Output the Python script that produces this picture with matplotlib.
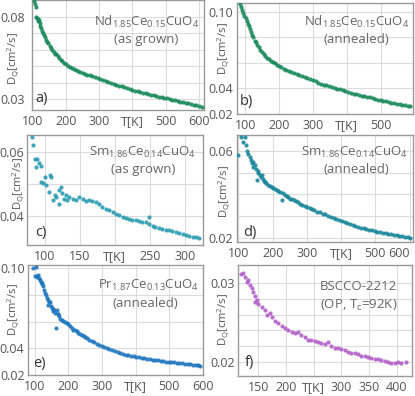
import matplotlib
matplotlib.use('Agg')
import matplotlib.pyplot as plt

plt.rcParams['font.family'] = ['Open Sans', 'DejaVu Sans']
plt.rcParams['mathtext.fontset'] = 'custom'
plt.rcParams['mathtext.rm'] = 'Open Sans'
plt.rcParams['mathtext.it'] = 'Open Sans:italic'
plt.rcParams['mathtext.bf'] = 'Open Sans:bold'

# ---------------- data ----------------
T_a = [106,108,110,112,114,116,118,120,122,124,127,130,133,136,139,142,145,148,152,156,160,164,168,172,176,180,185,190,195,200,
       206,212,218,224,230,237,244,251,258,265,272,280,288,296,304,312,320,328,336,344,352,360,368,376,384,392,400,408,416,424,
       432,440,448,456,464,472,480,488,496,504,512,520,528,536,544,552,560,568,576,584,592,600,608]
D_a = [0.0895,0.0880,0.0860,0.0800,0.0790,0.0785,0.0775,0.0780,0.0760,0.0745,0.0730,0.0715,0.0700,0.0690,0.0675,0.0660,0.0650,0.0640,0.0625,0.0612,
       0.0600,0.0590,0.0575,0.0578,0.0560,0.0552,0.0540,0.0532,0.0522,0.0512,0.0505,0.0495,0.0490,0.0485,0.0480,0.0472,0.0468,0.0460,0.0455,0.0450,
       0.0446,0.0440,0.0434,0.0428,0.0422,0.0417,0.0410,0.0405,0.0400,0.0395,0.0388,0.0384,0.0380,0.0374,0.0370,0.0365,0.0358,0.0354,0.0349,0.0345,
       0.0341,0.0337,0.0333,0.0329,0.0325,0.0321,0.0317,0.0314,0.0310,0.0306,0.0302,0.0298,0.0295,0.0291,0.0287,0.0284,0.0280,0.0276,0.0273,0.0269,
       0.0265,0.0261,0.0257]

T_b = [86,89,92,95,98,101,104,107,110,113,116,120,124,128,132,136,140,145,150,155,160,165,170,176,182,188,194,200,207,214,
       221,228,236,244,252,260,268,276,284,292,300,308,316,324,332,340,348,356,364,372,380,388,396,404,412,420,428,436,444,452,
       460,468,476,484,492,500,508,516,524,532,540,548,556,564,572,580,588]
D_b = [0.1060,0.1035,0.1010,0.0988,0.0965,0.0948,0.0928,0.0905,0.0885,0.0862,0.0842,0.0818,0.0800,0.0772,0.0760,0.0740,0.0722,0.0702,0.0688,0.0670,
       0.0655,0.0638,0.0628,0.0618,0.0608,0.0598,0.0585,0.0574,0.0564,0.0555,0.0545,0.0536,0.0526,0.0518,0.0510,0.0502,0.0494,0.0486,0.0478,0.0470,
       0.0462,0.0454,0.0446,0.0438,0.0430,0.0423,0.0416,0.0410,0.0404,0.0398,0.0392,0.0385,0.0378,0.0372,0.0366,0.0360,0.0354,0.0349,0.0344,0.0339,
       0.0334,0.0329,0.0323,0.0318,0.0313,0.0308,0.0303,0.0298,0.0293,0.0289,0.0285,0.0280,0.0276,0.0272,0.0268,0.0265,0.0262]

T_c = [81,83,86,89,87,92,94,95,98,100,102,106,107,109,111,114,116,120,120,123,125,128,130,132,135,140,144,149,154,159,
       163,168,173,178,182,187,192,197,201,206,211,216,220,225,230,235,239,244,249,249,254,258,263,268,273,277,282,287,292,297,
       301,306,311,316,320]
D_c = [0.0645,0.0619,0.0576,0.0576,0.0551,0.0564,0.0555,0.0507,0.0502,0.0522,0.0497,0.0476,0.0528,0.0522,0.0450,0.0465,0.0460,0.0437,0.0481,0.0491,
       0.0473,0.0455,0.0465,0.0452,0.0460,0.0455,0.0450,0.0460,0.0455,0.0448,0.0452,0.0448,0.0445,0.0437,0.0429,0.0424,0.0419,0.0414,0.0408,0.0403,
       0.0398,0.0396,0.0393,0.0390,0.0388,0.0386,0.0383,0.0383,0.0398,0.0378,0.0372,0.0367,0.0365,0.0362,0.0359,0.0357,0.0355,0.0352,0.0348,0.0346,
       0.0343,0.0341,0.0338,0.0336,0.0334]

T_d = [100,108,112,118,121,125,129,133,136,139,142,144,148,151,153,156,158,162,165,168,172,175,178,182,187,192,197,202,207,212,
       217,221,226,230,236,241,246,250,256,262,268,274,280,287,294,301,308,315,322,330,338,346,354,362,370,378,386,394,402,410,
       418,426,434,442,450,458,466,474,482,490,498,506,514,522,530,538,546,554,562,570,578,586,594,602]
D_d = [0.0580,0.0665,0.0640,0.0662,0.0626,0.0600,0.0585,0.0572,0.0560,0.0542,0.0550,0.0526,0.0534,0.0515,0.0465,0.0505,0.0496,0.0490,0.0478,0.0488,
       0.0470,0.0462,0.0457,0.0450,0.0442,0.0438,0.0434,0.0428,0.0422,0.0418,0.0414,0.0411,0.0372,0.0404,0.0395,0.0390,0.0386,0.0380,0.0376,0.0372,
       0.0367,0.0362,0.0357,0.0352,0.0346,0.0341,0.0337,0.0332,0.0327,0.0320,0.0316,0.0311,0.0307,0.0302,0.0296,0.0292,0.0287,0.0282,0.0278,0.0273,
       0.0269,0.0264,0.0260,0.0255,0.0250,0.0246,0.0243,0.0240,0.0237,0.0234,0.0230,0.0227,0.0224,0.0222,0.0220,0.0218,0.0215,0.0213,0.0211,0.0208,
       0.0206,0.0204,0.0202,0.0200]

T_e = [96,101,104,106,108,111,114,116,119,121,123,125,128,130,133,135,138,140,143,145,148,150,153,155,158,160,163,165,168,170,
       173,175,180,185,190,195,200,205,210,215,220,225,230,235,240,245,250,255,262,269,276,284,292,299,306,314,322,330,338,346,
       354,362,370,378,386,394,402,410,418,426,434,442,450,458,466,474,482,490,498,506,514,522,530,538,546,554,562,570,578,586,592]
D_e = [0.1000,0.0943,0.1012,0.0933,0.0940,0.0950,0.0925,0.0913,0.0900,0.0889,0.0880,0.0864,0.0840,0.0815,0.0800,0.0778,0.0760,0.0728,0.0750,0.0745,
       0.0720,0.0704,0.0695,0.0679,0.0690,0.0665,0.0556,0.0691,0.0660,0.0654,0.0640,0.0617,0.0610,0.0604,0.0598,0.0593,0.0580,0.0567,0.0552,0.0538,
       0.0535,0.0530,0.0518,0.0506,0.0497,0.0489,0.0482,0.0474,0.0465,0.0456,0.0445,0.0432,0.0424,0.0415,0.0408,0.0400,0.0393,0.0386,0.0379,0.0372,
       0.0365,0.0359,0.0353,0.0348,0.0344,0.0340,0.0336,0.0332,0.0328,0.0324,0.0320,0.0318,0.0316,0.0313,0.0310,0.0307,0.0304,0.0301,0.0299,0.0297,
       0.0295,0.0293,0.0291,0.0289,0.0286,0.0283,0.0280,0.0277,0.0274,0.0272,0.0270]

T_f = [119,123,126,129,132,135,138,141,144,147,144,150,156,162,165,171,174,180,186,192,198,204,210,216,222,228,234,240,246,252,
       258,264,270,276,282,288,294,300,306,312,318,324,330,336,342,348,354,360,366,372,378,384,390,396,402,408,417]
D_f = [0.0311,0.0313,0.0308,0.0302,0.0304,0.0298,0.0294,0.0289,0.0283,0.0279,0.0276,0.0274,0.0270,0.0266,0.0260,0.0262,0.0257,0.0252,0.0249,0.0245,
       0.0243,0.0240,0.0238,0.0237,0.0238,0.0234,0.0231,0.0228,0.0228,0.0227,0.0225,0.0224,0.0223,0.0225,0.0220,0.0218,0.0217,0.0216,0.0215,0.0213,
       0.0211,0.0211,0.0210,0.0208,0.0207,0.0206,0.0205,0.0204,0.0203,0.0202,0.0201,0.0200,0.0199,0.0199,0.0200,0.0199,0.0200]

xticks_a = [100, 200, 300, 400, 500, 600]
xlabels_a = ['100', '200', '300', '', '500', '600']
yticks_a = [0.03, 0.04, 0.05, 0.06, 0.07, 0.08]
ylabels_a = ['0.03', '', '', '', '', '0.08']

xticks_b = [100, 200, 300, 400, 500]
xlabels_b = ['100', '200', '300', '', '500']
yticks_b = [0.02, 0.04, 0.06, 0.08, 0.10]
ylabels_b = ['0.02', '0.04', '', '', '0.10']

xticks_c = [100, 150, 200, 250, 300]
xlabels_c = ['100', '150', '', '250', '300']
yticks_c = [0.04, 0.05, 0.06]
ylabels_c = ['0.04', '', '0.06']

xticks_d = [100, 200, 300, 400, 500, 600]
xlabels_d = ['100', '200', '300', '', '500', '600']
yticks_d = [0.02, 0.03, 0.04, 0.05, 0.06]
ylabels_d = ['0.02', '', '', '', '0.06']

xticks_e = [100, 200, 300, 400, 500, 600]
xlabels_e = ['100', '200', '300', '', '500', '600']
yticks_e = [0.02, 0.04, 0.06, 0.08, 0.10]
ylabels_e = ['0.02', '0.04', '', '', '0.10']

xticks_f = [150, 200, 250, 300, 350, 400]
xlabels_f = ['150', '200', '', '300', '350', '400']
yticks_f = [0.020, 0.022, 0.024, 0.026, 0.028, 0.030]
ylabels_f = ['0.02', '', '', '', '', '0.03']

names = [r'Nd$_{1.85}$Ce$_{0.15}$CuO$_{4}$', r'Nd$_{1.85}$Ce$_{0.15}$CuO$_{4}$',
         r'Sm$_{1.86}$Ce$_{0.14}$CuO$_{4}$', r'Sm$_{1.86}$Ce$_{0.14}$CuO$_{4}$',
         r'Pr$_{1.87}$Ce$_{0.13}$CuO$_{4}$', 'BSCCO-2212']
notes = ['(as grown)', '(annealed)', '(as grown)', '(annealed)', '(annealed)', r'(OP, T$_\mathrm{c}$=92K)']
letters = ['a)', 'b)', 'c)', 'd)', 'e)', 'f)']
colors = ['#1b8a5c', '#1b8a5c', '#2a9bb2', '#1a879c', '#2177be', '#b25fc9']

# ---------------- layout (pixels) ----------------
W, H = 415, 396
fig = plt.figure(figsize=(W / 100, H / 100), dpi=100)

panels = [
    dict(box=(32.3, -0.5, 204, 110), xlim=(100, 615), ylim=(0.0236, 0.0905), T=T_a, D=D_a,
         xt=xticks_a, xl=xlabels_a, yt=yticks_a, yl=ylabels_a, tk=400, yll=(13.5, 59), name=(0.666, 0.80), note=(0.666, 0.64),
         let=(0.02, 0.10), ypad=5, lastright=False),
    dict(box=(236.7, 3.3, 412.5, 114), xlim=(75, 594), ylim=(0.0200, 0.1065), T=T_b, D=D_b,
         xt=xticks_b, xl=xlabels_b, yt=yticks_b, yl=ylabels_b, tk=400, yll=(224, 49), name=(0.683, 0.83), note=(0.683, 0.67),
         let=(0.02, 0.11), ypad=2.5, lastright=False),
    dict(box=(26.7, 135, 203, 245), xlim=(74, 326), ylim=(0.0312, 0.0651), T=T_c, D=D_c,
         xt=xticks_c, xl=xlabels_c, yt=yticks_c, yl=ylabels_c, tk=200, yll=(19, 184), name=(0.655, 0.845), note=(0.661, 0.685),
         let=(0.045, 0.11), ypad=1.5, lastright=False),
    dict(box=(236.7, 135, 413, 242), xlim=(95, 610), ylim=(0.0180, 0.0673), T=T_d, D=D_d,
         xt=xticks_d, xl=xlabels_d, yt=yticks_d, yl=ylabels_d, tk=400, yll=(225, 192), name=(0.671, 0.84), note=(0.68, 0.68),
         let=(0.037, 0.09), ypad=2.5, lastright=True),
    dict(box=(28, 265, 203, 375), xlim=(80, 600), ylim=(0.0200, 0.1025), T=T_e, D=D_e,
         xt=xticks_e, xl=xlabels_e, yt=yticks_e, yl=ylabels_e, tk=400, yll=(14, 310), name=(0.691, 0.815), note=(0.672, 0.65),
         let=(0.03, 0.10), ypad=2.5, lastright=False),
    dict(box=(237.5, 265, 411.7, 376), xlim=(112.5, 427), ylim=(0.0182, 0.0323), T=T_f, D=D_f,
         xt=xticks_f, xl=xlabels_f, yt=yticks_f, yl=ylabels_f, tk=250, yll=(224, 320), name=(0.694, 0.805), note=(0.698, 0.64),
         let=(0.043, 0.12), ypad=2, lastright=False),
]

tick_color = '#555555'
text_color = '#666666'
for i, p in enumerate(panels):
    l, t, r, b = p['box']
    ax = fig.add_axes([l / W, 1 - b / H, (r - l) / W, (b - t) / H])
    ax.scatter(p['T'], p['D'], s=9, c=colors[i], linewidths=0, alpha=0.9, zorder=3)
    ax.set_xlim(*p['xlim'])
    ax.set_ylim(*p['ylim'])
    ax.set_xticks(p['xt'])
    ax.set_xticklabels(p['xl'])
    ax.set_yticks(p['yt'])
    ax.set_yticklabels(p['yl'])
    ax.grid(True, color='#dcdcdc', lw=0.8, zorder=0)
    ax.set_axisbelow(True)
    for s in ax.spines.values():
        s.set_color('#9a9a9a')
        s.set_linewidth(1.0)
    ax.tick_params(axis='both', length=0, labelsize=9, colors=tick_color)
    ax.tick_params(axis='x', pad=3.5)
    ax.tick_params(axis='y', pad=p['ypad'])
    if p['lastright']:
        ax.get_xticklabels()[-1].set_horizontalalignment('right')
    # axis label T[K] sits in the tick-label row
    xfrac = (p['tk'] - p['xlim'][0]) / (p['xlim'][1] - p['xlim'][0])
    ax.set_xlabel('T[K]', fontsize=9, color=tick_color)
    ax.xaxis.set_label_coords(xfrac, -3.5 * 100 / 72 / (b - t))
    # y label
    fig.text(p['yll'][0] / W, 1 - p['yll'][1] / H, r'D$_\mathrm{Q}$[cm$^2$/s]', rotation=90,
             ha='center', va='center', fontsize=8, color=tick_color)
    ax.text(p['name'][0], p['name'][1], names[i], transform=ax.transAxes, ha='center', va='center',
            fontsize=9.5, color=text_color)
    ax.text(p['note'][0], p['note'][1], notes[i], transform=ax.transAxes, ha='center', va='center',
            fontsize=9.5, color=text_color)
    ax.text(p['let'][0], p['let'][1], letters[i], transform=ax.transAxes, ha='left', va='center',
            fontsize=10.5, color='#333333')

fig.savefig('out.png', dpi=100)
